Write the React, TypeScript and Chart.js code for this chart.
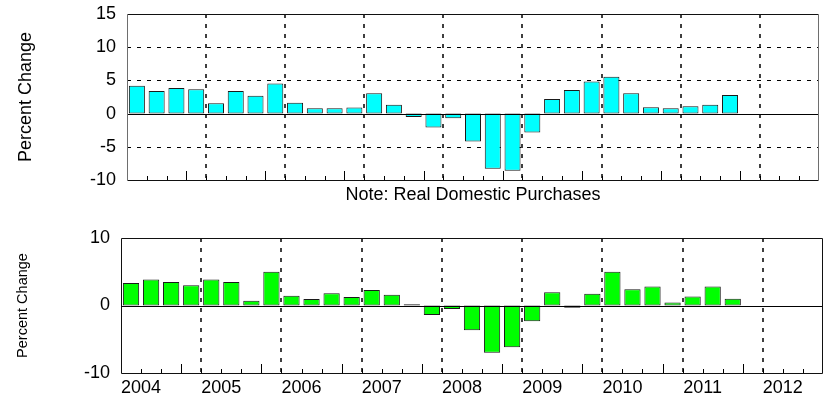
import React, { useEffect, useRef } from 'react';
import { Chart, registerables } from 'chart.js';

Chart.register(...registerables);

// ---- data ----
const years = ['2004', '2005', '2006', '2007', '2008', '2009', '2010', '2011', '2012'];
const quarterNames = ['Q1', 'Q2', 'Q3', 'Q4'];
const quarters = years.flatMap((y) => quarterNames.map((q) => `${y} ${q}`)).slice(0, 35);

// Real domestic purchases, percent change (2004 Q1 .. 2011 Q3)
const domesticPurchases = [
  4.2, 3.4, 3.85, 3.65, 1.55, 3.4, 2.7, 4.55, 1.65, 0.8, 0.8, 0.9,
  3.05, 1.35, -0.5, -2.1, -0.7, -4.2, -8.3, -8.6, -2.85, 2.2, 3.55, 4.85,
  5.55, 3.05, 0.95, 0.8, 1.1, 1.35, 2.8,
];

// Lower panel series, percent change (2004 Q1 .. 2011 Q3)
const lowerSeries = [
  3.35, 3.85, 3.5, 3.0, 3.85, 3.5, 0.7, 5.0, 1.45, 0.95, 1.8, 1.25,
  2.3, 1.6, 0.2, -1.4, -0.5, -3.65, -7.0, -6.2, -2.35, 1.95, -0.35, 1.75,
  5.0, 2.4, 2.8, 0.45, 1.35, 2.8, 1.0,
];

const topTicks = [-10, -5, 0, 5, 10, 15];
const topDashed = [-5, 5, 10];
const bottomTicks = [-10, 0, 10];
const bottomDashed: number[] = [];

const FONT = '"Liberation Sans", Arial, Helvetica, sans-serif';

function framePlugin(hDashed: number[], sideColor: string) {
  return {
    id: 'framePlugin',
    beforeDatasetsDraw(chart: any) {
      const { ctx, chartArea: a, scales } = chart;
      const x = scales.x;
      const y = scales.y;
      ctx.save();
      ctx.strokeStyle = '#000';
      ctx.setLineDash([4, 6]);
      ctx.lineWidth = 1;
      for (const v of hDashed) {
        const py = Math.round(y.getPixelForValue(v)) + 0.5;
        ctx.beginPath();
        ctx.moveTo(a.left, py);
        ctx.lineTo(a.right, py);
        ctx.stroke();
      }
      ctx.lineWidth = 1.5;
      for (let i = 4; i < quarters.length; i += 4) {
        const px = Math.round(x.getPixelForValue(i - 0.5));
        ctx.beginPath();
        ctx.moveTo(px, a.top);
        ctx.lineTo(px, a.bottom);
        ctx.stroke();
      }
      ctx.restore();
    },
    afterDatasetsDraw(chart: any) {
      const { ctx, chartArea: a, scales } = chart;
      const x = scales.x;
      const y = scales.y;
      ctx.save();
      ctx.setLineDash([]);
      ctx.strokeStyle = '#000';
      ctx.lineWidth = 1;
      // minor ticks at quarter boundaries
      for (let i = 1; i < quarters.length; i++) {
        const px = Math.round(x.getPixelForValue(i - 0.5)) + 0.5;
        const len = i % 4 === 3 ? 9 : 4;
        ctx.beginPath();
        ctx.moveTo(px, a.bottom);
        ctx.lineTo(px, a.bottom - len);
        ctx.stroke();
      }
      // zero line
      const zy = Math.round(y.getPixelForValue(0)) + 0.5;
      ctx.beginPath();
      ctx.moveTo(a.left, zy);
      ctx.lineTo(a.right, zy);
      ctx.stroke();
      // frame
      const l = Math.round(a.left) + 0.5;
      const r = Math.round(a.right) - 0.5;
      const t = Math.round(a.top) + 0.5;
      const b = Math.round(a.bottom) + 0.5;
      ctx.strokeStyle = '#111';
      ctx.beginPath();
      ctx.moveTo(l, t);
      ctx.lineTo(r, t);
      ctx.moveTo(l, b);
      ctx.lineTo(r, b);
      ctx.stroke();
      ctx.strokeStyle = sideColor;
      ctx.beginPath();
      ctx.moveTo(l, t);
      ctx.lineTo(l, b);
      ctx.moveTo(r, t);
      ctx.lineTo(r, b);
      ctx.stroke();
      ctx.restore();
    },
  };
}

function buildConfig(opts: {
  values: number[];
  color: string;
  ticks: number[];
  dashed: number[];
  min: number;
  max: number;
  yWidth: number;
  xHeight: number;
  padding: any;
  titleSize: number;
  titlePad: number;
  showXLabels: boolean;
  xTitle?: string;
  sideColor: string;
}) {
  return {
    type: 'bar' as const,
    data: {
      labels: quarters,
      datasets: [
        {
          data: opts.values,
          backgroundColor: opts.color,
          borderColor: '#1a1a1a',
          borderWidth: 1,
          borderSkipped: false,
          categoryPercentage: 1,
          barPercentage: 0.81,
        },
      ],
    },
    options: {
      animation: false,
      responsive: false,
      maintainAspectRatio: false,
      events: [],
      layout: { padding: opts.padding },
      plugins: { legend: { display: false }, tooltip: { enabled: false }, title: { display: false } },
      scales: {
        x: {
          type: 'category',
          offset: true,
          grid: { display: false, drawTicks: false },
          border: { display: false },
          ticks: {
            display: opts.showXLabels,
            autoSkip: false,
            maxRotation: 0,
            minRotation: 0,
            padding: 4,
            labelOffset: 10,
            color: '#000',
            font: { family: FONT, size: 18 },
            callback: (_v: any, i: number) => (i % 4 === 0 ? quarters[i].slice(0, 4) : ''),
          },
          title: {
            display: !!opts.xTitle,
            text: opts.xTitle || '',
            color: '#000',
            font: { family: FONT, size: 18 },
            padding: { top: 0, bottom: 4 },
          },
          afterFit: (s: any) => {
            s.height = opts.xHeight;
            s.paddingLeft = 0;
            s.paddingRight = 0;
          },
        },
        y: {
          type: 'linear',
          min: opts.min,
          max: opts.max,
          grid: { display: false, drawTicks: false },
          border: { display: false },
          afterBuildTicks: (s: any) => {
            s.ticks = opts.ticks.map((v) => ({ value: v }));
          },
          ticks: {
            padding: 11,
            color: '#000',
            font: { family: FONT, size: 18 },
          },
          title: {
            display: true,
            text: 'Percent Change',
            color: '#000',
            font: { family: FONT, size: opts.titleSize },
            padding: { top: opts.titlePad, bottom: 0 },
          },
          afterFit: (s: any) => {
            s.width = opts.yWidth;
            s.paddingTop = 0;
            s.paddingBottom = 0;
          },
        },
      },
    },
    plugins: [framePlugin(opts.dashed, opts.sideColor)],
  };
}

export default function App() {
  const topRef = useRef<HTMLCanvasElement | null>(null);
  const bottomRef = useRef<HTMLCanvasElement | null>(null);

  useEffect(() => {
    const top = new Chart(
      topRef.current as HTMLCanvasElement,
      buildConfig({
        values: domesticPurchases,
        color: '#00FFFF',
        ticks: topTicks,
        dashed: topDashed,
        min: -10,
        max: 15,
        yWidth: 127,
        xHeight: 30,
        padding: { top: 14, right: 5, left: 0, bottom: 0 },
        titleSize: 18,
        titlePad: 15,
        showXLabels: false,
        xTitle: 'Note: Real Domestic Purchases',
        sideColor: '#6e6e6e',
      }) as any
    );
    const bottom = new Chart(
      bottomRef.current as HTMLCanvasElement,
      buildConfig({
        values: lowerSeries,
        color: '#00FF00',
        ticks: bottomTicks,
        dashed: bottomDashed,
        min: -10,
        max: 10,
        yWidth: 121,
        xHeight: 29,
        padding: { top: 28, right: 1, left: 0, bottom: 0 },
        titleSize: 14.5,
        titlePad: 14,
        showXLabels: true,
        sideColor: '#111',
      }) as any
    );
    return () => {
      top.destroy();
      bottom.destroy();
    };
  }, []);

  return (
    <div style={{ position: 'absolute', left: 0, top: 0, width: 824, height: 402, background: '#fff' }}>
      <canvas ref={topRef} width={824} height={210} style={{ position: 'absolute', left: 0, top: 0, width: 824, height: 210 }} />
      <canvas ref={bottomRef} width={824} height={192} style={{ position: 'absolute', left: 0, top: 210, width: 824, height: 192 }} />
    </div>
  );
}
